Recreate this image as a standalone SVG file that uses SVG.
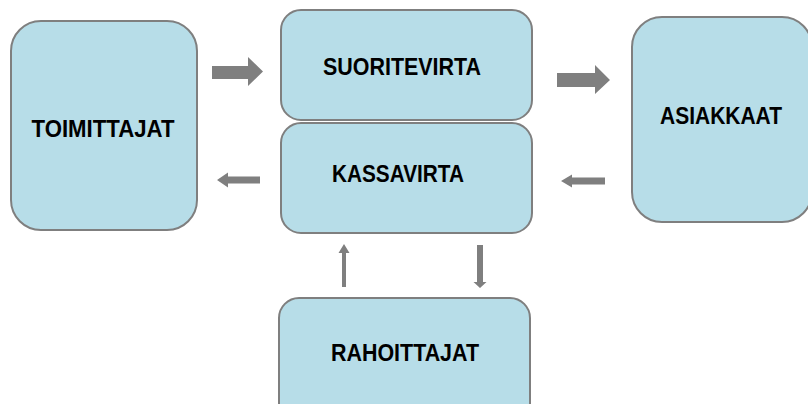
<svg xmlns="http://www.w3.org/2000/svg" width="808" height="404" viewBox="0 0 808 404">
<style>
.box{fill:#b7dde8;stroke:#7f7f7f;stroke-width:2}
.lbl{font-family:"Liberation Sans",Arial,sans-serif;font-weight:bold;font-size:23px;fill:#000;text-anchor:middle}
.arr{fill:#7f7f7f}
</style>
<rect width="808" height="404" fill="#fff"/>
<g id="toimittajat">
<rect class="box" x="11" y="21" width="186" height="209" rx="30"/>
<text class="lbl" x="103" y="136.5" textLength="143" lengthAdjust="spacingAndGlyphs">TOIMITTAJAT</text>
</g>
<g id="suoritevirta">
<rect class="box" x="281" y="10" width="251" height="110" rx="20"/>
<text class="lbl" x="402" y="75" textLength="158" lengthAdjust="spacingAndGlyphs">SUORITEVIRTA</text>
</g>
<g id="kassavirta">
<rect class="box" x="281" y="123" width="251" height="110" rx="20"/>
<text class="lbl" x="398" y="182" textLength="132" lengthAdjust="spacingAndGlyphs">KASSAVIRTA</text>
</g>
<g id="asiakkaat">
<rect class="box" x="632" y="17" width="180" height="205" rx="30"/>
<text class="lbl" x="721" y="124" textLength="122" lengthAdjust="spacingAndGlyphs">ASIAKKAAT</text>
</g>
<g id="rahoittajat">
<rect class="box" x="279" y="298" width="251" height="130" rx="20"/>
<text class="lbl" x="405" y="361" textLength="148" lengthAdjust="spacingAndGlyphs">RAHOITTAJAT</text>
</g>
<g id="connectors">
<polygon class="arr" points="212,66 248,66 248,57 263,71.5 248,86 248,79 212,79"/>
<polygon class="arr" points="557,73 595,73 595,65 610,80 595,94 595,87 557,87"/>
<polygon class="arr" points="260,176.5 228,176.5 228,172.5 217,180 228,187.5 228,183.5 260,183.5"/>
<polygon class="arr" points="605,177.5 572,177.5 572,174.5 561,181 572,187.5 572,184.5 605,184.5"/>
<polygon class="arr" points="342,287 342,253 338.5,253 344,244 349.5,253 346,253 346,287"/>
<polygon class="arr" points="477,245 483,245 483,282 486.5,282 480,288 473.5,282 477,282"/>
</g>
</svg>
